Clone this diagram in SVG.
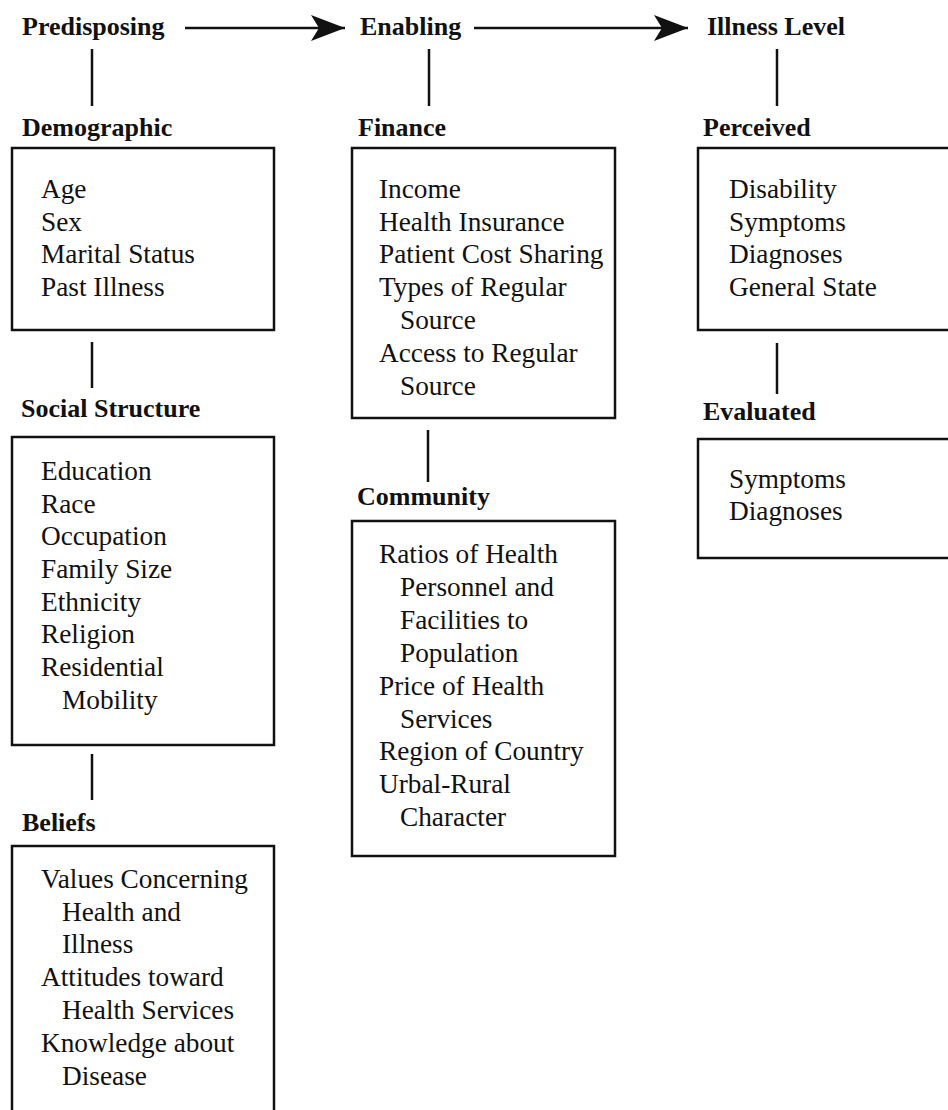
<svg xmlns="http://www.w3.org/2000/svg" width="948" height="1110" viewBox="0 0 948 1110">
<style>
.h{font-family:"Liberation Serif",serif;font-weight:bold;font-size:26px;fill:#111}
.t{font-family:"Liberation Serif",serif;font-size:27.3px;fill:#111}
.box{fill:#fff;stroke:#111;stroke-width:2.5}
.ln{stroke:#111;stroke-width:2.5;fill:none}
</style>
<defs>
<marker id="ah" markerUnits="userSpaceOnUse" markerWidth="40" markerHeight="30" refX="34" refY="13" orient="auto">
<path d="M34,13 L0,0 L8,13 L0,26 Z" fill="#111"/>
</marker>
</defs>
<rect width="948" height="1110" fill="#fff"/>
<g id="connectors">
<line class="ln" x1="185" y1="28" x2="345" y2="28" marker-end="url(#ah)"/>
<line class="ln" x1="474" y1="28" x2="688" y2="28" marker-end="url(#ah)"/>
<line class="ln" x1="92" y1="49" x2="92" y2="106"/>
<line class="ln" x1="429" y1="49" x2="429" y2="106"/>
<line class="ln" x1="777" y1="49" x2="777" y2="106"/>
<line class="ln" x1="92" y1="342" x2="92" y2="388"/>
<line class="ln" x1="92" y1="754" x2="92" y2="800"/>
<line class="ln" x1="428" y1="430" x2="428" y2="482"/>
<line class="ln" x1="777" y1="343" x2="777" y2="394"/>
</g>
<g id="predisposing"><text class="h" x="22" y="35">Predisposing</text></g>
<g id="enabling"><text class="h" x="360" y="35">Enabling</text></g>
<g id="illness-level"><text class="h" x="707" y="35">Illness Level</text></g>
<g id="demographic">
<text class="h" x="22" y="136">Demographic</text>
<rect class="box" x="12" y="148" width="262" height="182"/>
<text class="t" x="41" y="198">Age</text>
<text class="t" x="41" y="231">Sex</text>
<text class="t" x="41" y="263">Marital Status</text>
<text class="t" x="41" y="296">Past Illness</text>
</g>
<g id="social-structure">
<text class="h" x="21" y="417">Social Structure</text>
<rect class="box" x="12" y="437" width="262" height="308"/>
<text class="t" x="41" y="480">Education</text>
<text class="t" x="41" y="513">Race</text>
<text class="t" x="41" y="545">Occupation</text>
<text class="t" x="41" y="578">Family Size</text>
<text class="t" x="41" y="611">Ethnicity</text>
<text class="t" x="41" y="643">Religion</text>
<text class="t" x="41" y="676">Residential</text>
<text class="t" x="62" y="709">Mobility</text>
</g>
<g id="beliefs">
<text class="h" x="22" y="831">Beliefs</text>
<rect class="box" x="12" y="846" width="262" height="280"/>
<text class="t" x="41" y="888">Values Concerning</text>
<text class="t" x="62" y="921">Health and</text>
<text class="t" x="62" y="953">Illness</text>
<text class="t" x="41" y="986">Attitudes toward</text>
<text class="t" x="62" y="1019">Health Services</text>
<text class="t" x="41" y="1052">Knowledge about</text>
<text class="t" x="62" y="1085">Disease</text>
</g>
<g id="finance">
<text class="h" x="358" y="136">Finance</text>
<rect class="box" x="352" y="148" width="263" height="270"/>
<text class="t" x="379" y="198">Income</text>
<text class="t" x="379" y="231">Health Insurance</text>
<text class="t" x="379" y="263">Patient Cost Sharing</text>
<text class="t" x="379" y="296">Types of Regular</text>
<text class="t" x="400" y="329">Source</text>
<text class="t" x="379" y="362">Access to Regular</text>
<text class="t" x="400" y="395">Source</text>
</g>
<g id="community">
<text class="h" x="357" y="505">Community</text>
<rect class="box" x="352" y="521" width="263" height="335"/>
<text class="t" x="379" y="563">Ratios of Health</text>
<text class="t" x="400" y="596">Personnel and</text>
<text class="t" x="400" y="629">Facilities to</text>
<text class="t" x="400" y="662">Population</text>
<text class="t" x="379" y="695">Price of Health</text>
<text class="t" x="400" y="728">Services</text>
<text class="t" x="379" y="760">Region of Country</text>
<text class="t" x="379" y="793">Urbal-Rural</text>
<text class="t" x="400" y="826">Character</text>
</g>
<g id="perceived">
<text class="h" x="703" y="136">Perceived</text>
<rect class="box" x="698" y="148" width="270" height="182"/>
<text class="t" x="729" y="198">Disability</text>
<text class="t" x="729" y="231">Symptoms</text>
<text class="t" x="729" y="263">Diagnoses</text>
<text class="t" x="729" y="296">General State</text>
</g>
<g id="evaluated">
<text class="h" x="703" y="420">Evaluated</text>
<rect class="box" x="698" y="439" width="270" height="119"/>
<text class="t" x="729" y="488">Symptoms</text>
<text class="t" x="729" y="520">Diagnoses</text>
</g>
</svg>
